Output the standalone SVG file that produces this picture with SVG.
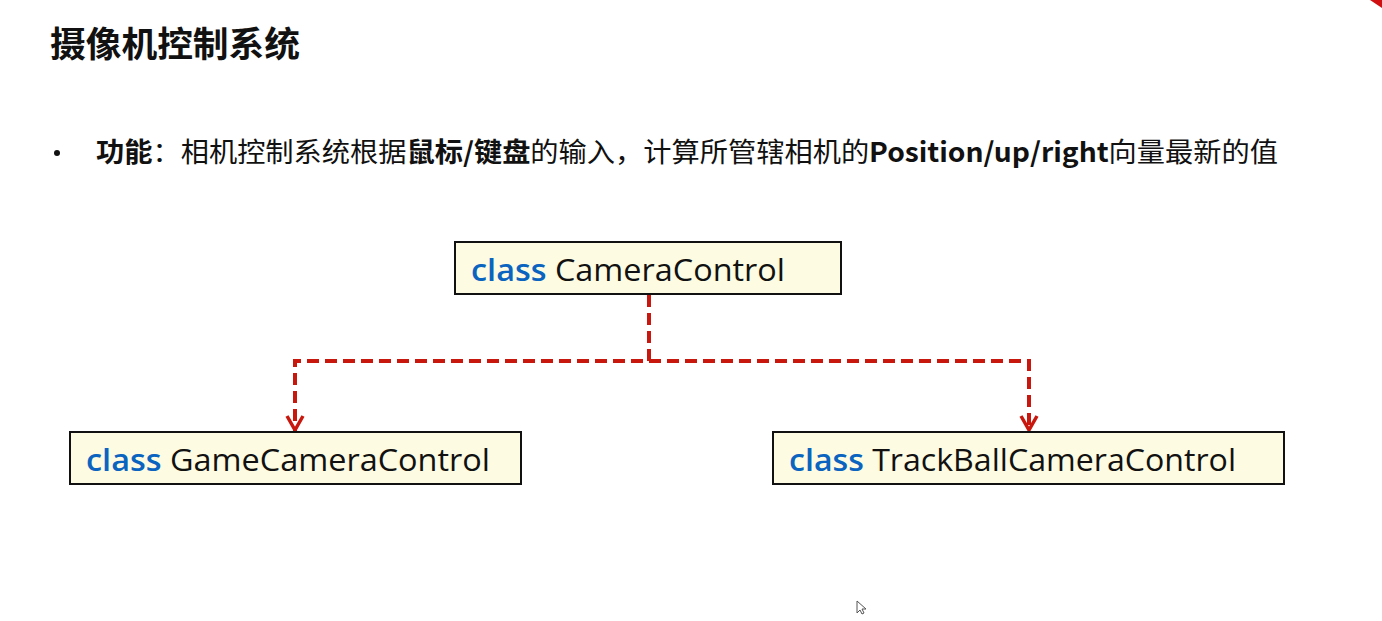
<svg xmlns="http://www.w3.org/2000/svg" width="1382" height="621" viewBox="0 0 1382 621">
<defs>
<style>
.title{font-family:"Noto Sans CJK SC","Noto Sans",sans-serif;font-weight:700;font-size:35px;fill:#111}
.body{font-family:"Noto Sans CJK SC","Noto Sans",sans-serif;font-size:27px;fill:#111}
.b{font-weight:700}
.box{fill:#fdfbe2;stroke:#111;stroke-width:2}
.cls{font-family:"Open Sans","Noto Sans",sans-serif;font-size:31px;fill:#111}
.kw{fill:#0a64c0;font-weight:600}
.conn{fill:none;stroke:#c8180e;stroke-width:4;stroke-dasharray:12 6}
</style>
<marker id="arr" viewBox="0 0 20 20" refX="19" refY="10" markerWidth="20" markerHeight="20" markerUnits="userSpaceOnUse" orient="auto">
<path d="M4,2 L18,10 L4,18" fill="none" stroke="#c8180e" stroke-width="3.5"/>
</marker>
</defs>
<rect width="1382" height="621" fill="#fff"/>
<polygon points="1370,0 1382,0 1382,8" fill="#d01010"/>
<text class="title" x="50" y="57" textLength="250" lengthAdjust="spacingAndGlyphs">摄像机控制系统</text>
<circle cx="57" cy="153" r="3" fill="#111"/>
<text class="body" x="96" y="162" textLength="1182" lengthAdjust="spacingAndGlyphs"><tspan class="b">功能</tspan>：相机控制系统根据<tspan class="b">鼠标/键盘</tspan>的输入，计算所管辖相机的<tspan class="b">Position/up/right</tspan>向量最新的值</text>
<g id="connectors">
<path class="conn" d="M649,295 V361 H295 V431" marker-end="url(#arr)"/>
<path class="conn" d="M649,361 H1029 V431" marker-end="url(#arr)"/>
</g>
<g id="node-cameracontrol">
<rect class="box" x="455" y="242" width="386" height="52"/>
<text class="cls" x="471" y="281" textLength="314" lengthAdjust="spacingAndGlyphs"><tspan class="kw">class</tspan> CameraControl</text>
</g>
<g id="node-gamecameracontrol">
<rect class="box" x="70" y="432" width="451" height="52"/>
<text class="cls" x="86" y="471" textLength="404" lengthAdjust="spacingAndGlyphs"><tspan class="kw">class</tspan> GameCameraControl</text>
</g>
<g id="node-trackballcameracontrol">
<rect class="box" x="773" y="432" width="511" height="52"/>
<text class="cls" x="789" y="471" textLength="447" lengthAdjust="spacingAndGlyphs"><tspan class="kw">class</tspan> TrackBallCameraControl</text>
</g>
<path d="M857,601 V613 L860,610 L862,614 L864,613 L862,609 L866,609 Z" fill="#fff" stroke="#555" stroke-width="1"/>
</svg>
